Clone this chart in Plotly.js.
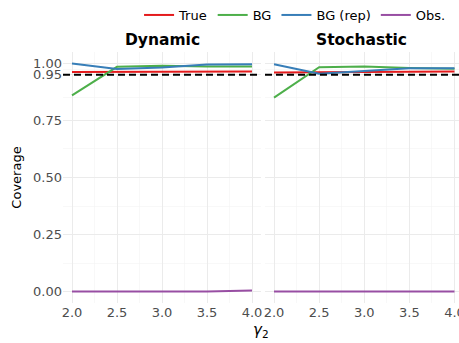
<!DOCTYPE html>
<html>
<head>
<meta charset="utf-8">
<script src="https://cdn.plot.ly/plotly-3.0.1.min.js"></script>
<style>html,body{margin:0;padding:0;background:#fff;}#chart{width:459px;height:343px;}</style>
</head>
<body>
<div id="chart"></div>
<script>
const gamma2 = [2.0, 2.5, 3.0, 3.5, 4.0];
const seriesNames = ["True", "BG", "BG (rep)", "Obs."];
const seriesColors = ["#E41A1C", "#4DAF4A", "#377EB8", "#984EA3"];
const panelTitles = ["Dynamic", "Stochastic"];

const dynTrue = [0.962, 0.962, 0.962, 0.963, 0.964];
const dynBG = [0.860, 0.985, 0.990, 0.986, 0.987];
const dynBGrep = [1.000, 0.976, 0.982, 0.995, 0.996];
const dynObs = [0.000, 0.000, 0.000, 0.000, 0.005];

const stoTrue = [0.960, 0.961, 0.962, 0.963, 0.964];
const stoBG = [0.850, 0.983, 0.987, 0.980, 0.977];
const stoBGrep = [0.996, 0.955, 0.967, 0.979, 0.979];
const stoObs = [0.000, 0.000, 0.000, 0.000, 0.000];

const nominal = 0.95;
const yTicks = [0, 0.25, 0.5, 0.75, 0.95, 1.0];
const yTickText = ["0.00", "0.25", "0.50", "0.75", "0.95", "1.00"];
const xTicks = [2.0, 2.5, 3.0, 3.5, 4.0];
const xTickText = ["2.0", "2.5", "3.0", "3.5", "4.0"];

const panels = [[dynTrue, dynBG, dynBGrep, dynObs], [stoTrue, stoBG, stoBGrep, stoObs]];
const traces = [];
panels.forEach((p, pi) => {
  p.forEach((vals, si) => {
    traces.push({
      x: gamma2, y: vals, type: "scatter", mode: "lines",
      name: seriesNames[si], legendgroup: seriesNames[si],
      showlegend: pi === 0,
      line: {color: seriesColors[si], width: 2},
      xaxis: pi === 0 ? "x" : "x2", yaxis: pi === 0 ? "y" : "y2"
    });
  });
});

const fontFam = "DejaVu Sans, sans-serif";
const grid = "#ebebeb";
function xax(domain, range) {
  return {
    domain: domain, range: range, tickvals: xTicks, ticktext: xTickText,
    showgrid: true, gridcolor: grid, gridwidth: 1, zeroline: false, showline: false,
    ticks: "", tickfont: {family: fontFam, size: 13, color: "#4d4d4d"},
    ticklabeloverflow: "allow",
    minor: {tickvals: [2.25, 2.75, 3.25, 3.75], showgrid: true, gridcolor: "#f4f4f4", gridwidth: 0.6},
    fixedrange: true
  };
}
function yax(showLabels, anchor) {
  return {
    range: [-0.05, 1.05], tickvals: yTicks, ticktext: yTickText, showticklabels: showLabels,
    showgrid: true, gridcolor: grid, gridwidth: 1, zeroline: false, showline: false,
    ticks: "", tickfont: {family: fontFam, size: 13, color: "#4d4d4d"},
    minor: {tickvals: [0.125, 0.375, 0.625, 0.85, 0.975], showgrid: true, gridcolor: "#f4f4f4", gridwidth: 0.6},
    anchor: anchor, fixedrange: true
  };
}

const layout = {
  width: 459, height: 343,
  margin: {l: 63, r: 0, t: 51.5, b: 39.5},
  paper_bgcolor: "#fff", plot_bgcolor: "rgba(0,0,0,0)",
  font: {family: fontFam, color: "#000"},
  xaxis: Object.assign(xax([0, 0.5], [1.9, 4.1]), {anchor: "y"}),
  xaxis2: Object.assign(xax([0.5101, 1], [1.9, 4.05]), {anchor: "y2"}),
  yaxis: Object.assign(yax(true, "x"), {title: {text: "Coverage", font: {family: fontFam, size: 13}, standoff: 8}}),
  yaxis2: Object.assign(yax(false, "x2"), {matches: "y"}),
  showlegend: true,
  legend: {
    orientation: "h", x: 0.586, xanchor: "center", y: 1.0, yref: "container", yanchor: "top",
    font: {family: fontFam, size: 13}, itemwidth: 30, tracegroupgap: 0,
    bgcolor: "rgba(0,0,0,0)"
  },
  annotations: [
    {text: "<b>" + panelTitles[0] + "</b>", xref: "x domain", yref: "paper", x: 0.5, y: 1, yshift: 1, yanchor: "bottom", showarrow: false, font: {family: fontFam, size: 15.5}},
    {text: "<b>" + panelTitles[1] + "</b>", xref: "x2 domain", yref: "paper", x: 0.5, y: 1, yshift: 1, yanchor: "bottom", showarrow: false, font: {family: fontFam, size: 15.5}},
    {text: "<i>γ</i><sub>2</sub>", xref: "paper", yref: "paper", x: 0.5, y: 0, yshift: -16, yanchor: "top", showarrow: false, font: {family: fontFam, size: 15}}
  ],
  shapes: [
    {type: "line", xref: "x domain", yref: "y", x0: 0, x1: 1, y0: nominal, y1: nominal, line: {color: "#000", width: 2, dash: "7px,4px"}},
    {type: "line", xref: "x2 domain", yref: "y2", x0: 0, x1: 1, y0: nominal, y1: nominal, line: {color: "#000", width: 2, dash: "7px,4px"}}
  ]
};

Plotly.newPlot("chart", traces, layout, {displayModeBar: false, staticPlot: true});
</script>
</body>
</html>
